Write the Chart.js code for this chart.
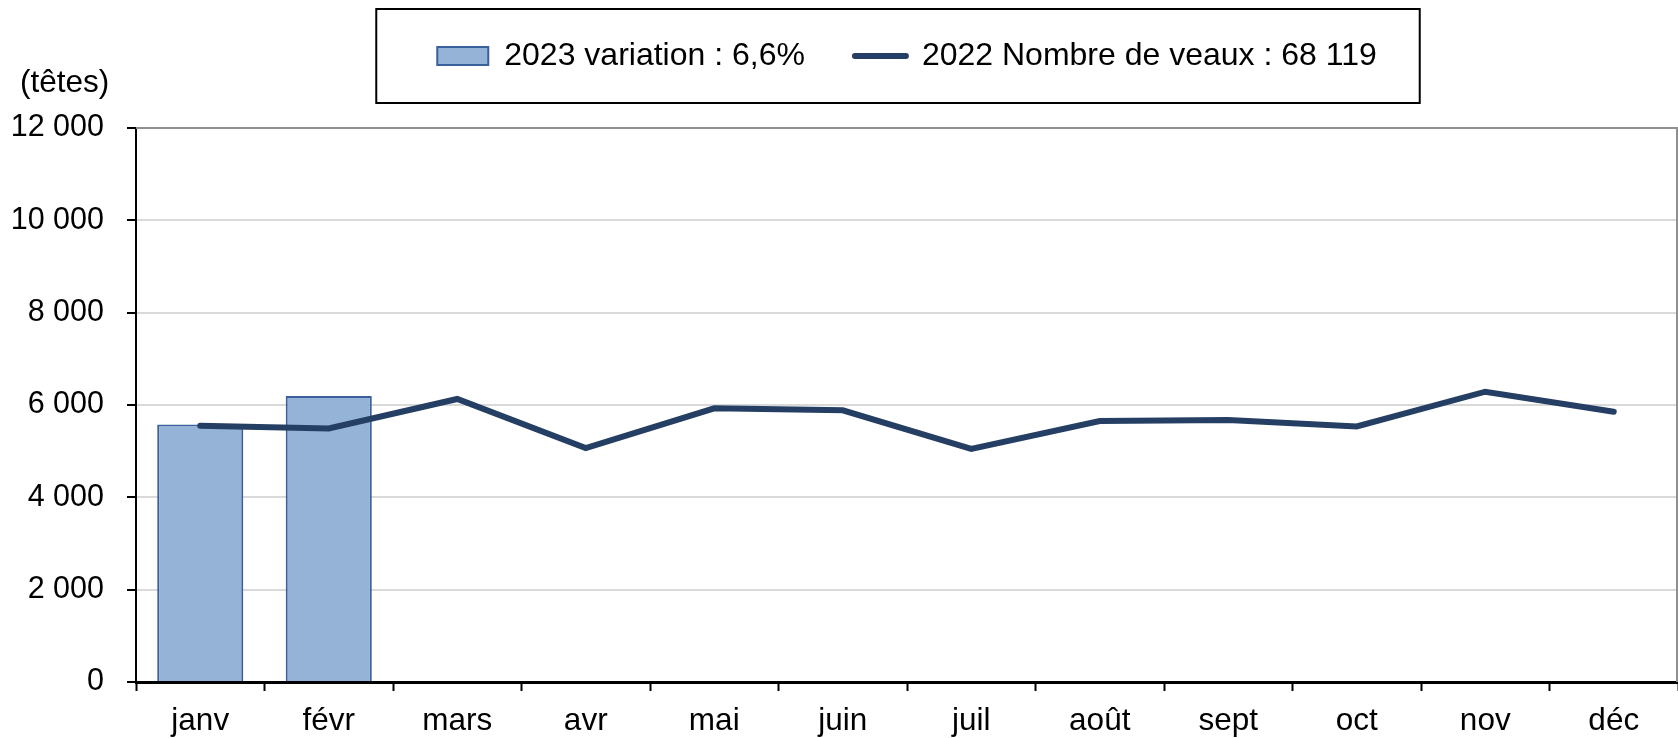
<!DOCTYPE html>
<html>
<head>
<meta charset="utf-8">
<script src="https://cdn.jsdelivr.net/npm/chart.js@4/dist/chart.umd.min.js"></script>
<style>
  html, body { margin: 0; padding: 0; background: #fff; }
  #wrap { width: 1678px; height: 738px; }
</style>
</head>
<body>
<div id="wrap"><canvas id="c" width="1678" height="738"></canvas></div>
<script>
const months = ['janv', 'févr', 'mars', 'avr', 'mai', 'juin', 'juil', 'août', 'sept', 'oct', 'nov', 'déc'];
const values2023 = [5580, 6195, null, null, null, null, null, null, null, null, null, null];
const values2022 = [5551, 5493, 6130, 5068, 5927, 5885, 5047, 5653, 5675, 5536, 6288, 5855];
const label2023 = '2023 variation : 6,6%';
const label2022 = '2022 Nombre de veaux : 68 119';
const unitLabel = '(têtes)';
const yMin = 0, yMax = 12000, yStep = 2000;

const FONT = 'Liberation Sans, Arial, sans-serif';
Chart.defaults.font.family = FONT;
Chart.defaults.font.size = 30;
Chart.defaults.color = '#000';

function fmt(v) { return String(v).replace(/\B(?=(\d{3})+(?!\d))/g, ' '); }

const deco = {
  id: 'deco',
  afterDraw(chart) {
    const { ctx, chartArea: a, legend } = chart;
    ctx.save();
    // plot area border (top + right)
    ctx.strokeStyle = '#8f8f8f';
    ctx.lineWidth = 2;
    ctx.beginPath();
    ctx.moveTo(a.left, a.top);
    ctx.lineTo(a.right - 1, a.top);
    ctx.lineTo(a.right - 1, a.bottom);
    ctx.stroke();
    // legend frame
    const hb = legend.legendHitBoxes;
    if (hb && hb.length) {
      const first = hb[0], last = hb[hb.length - 1];
      const cy = first.top + first.height / 2;
      const x0 = first.left - 61, x1 = last.left + last.width + 43;
      ctx.strokeStyle = '#000';
      ctx.lineWidth = 2;
      ctx.strokeRect(x0, cy - 47, x1 - x0, 94);
    }
    // unit label
    ctx.fillStyle = '#000';
    ctx.font = '31.5px ' + FONT;
    ctx.textAlign = 'left';
    ctx.textBaseline = 'alphabetic';
    ctx.fillText(unitLabel, a.left - 116, a.top - 36);
    ctx.restore();
  }
};

new Chart(document.getElementById('c'), {
  type: 'bar',
  data: {
    labels: months,
    datasets: [
      {
        type: 'bar',
        label: label2023,
        data: values2023,
        backgroundColor: '#95B3D7',
        borderColor: '#3A5F9A',
        borderWidth: 2,
        categoryPercentage: 1,
        barPercentage: 0.67,
        order: 1
      },
      {
        type: 'line',
        label: label2022,
        data: values2022,
        borderColor: '#243F63',
        backgroundColor: '#243F63',
        borderWidth: 6,
        pointRadius: 0,
        pointHoverRadius: 0,
        tension: 0,
        borderCapStyle: 'round',
        borderJoinStyle: 'miter',
        order: 0
      }
    ]
  },
  options: {
    responsive: false,
    animation: false,
    devicePixelRatio: 1,
    layout: { padding: { left: 12, right: 0, top: -10, bottom: 0 } },
    plugins: {
      tooltip: { enabled: false },
      legend: {
        position: 'top',
        fullSize: false,
        labels: {
          usePointStyle: true,
          pointStyleWidth: 51,
          boxHeight: 18,
          padding: 50,
          color: '#000',
          font: { size: 32, family: FONT },
          sort: (a, b) => a.datasetIndex - b.datasetIndex,
          generateLabels(chart) {
            const items = Chart.defaults.plugins.legend.labels.generateLabels(chart);
            items.forEach(it => {
              if (it.datasetIndex === 0) { it.pointStyle = 'rect'; it.lineWidth = 2; }
              else { it.pointStyle = 'line'; it.lineWidth = 6; it.lineCap = 'round'; }
            });
            return items;
          }
        }
      }
    },
    scales: {
      x: {
        type: 'category',
        offset: true,
        grid: {
          offset: true,
          drawOnChartArea: false,
          drawTicks: true,
          tickLength: 9,
          tickColor: '#000',
          tickWidth: 2
        },
        border: { display: true, color: '#000', width: 3 },
        ticks: { padding: 11, color: '#000', font: { size: 31.5 }, maxRotation: 0, autoSkip: false },
        afterFit(scale) { scale.height = 56; }
      },
      xTop: {
        type: 'category',
        position: 'top',
        display: true,
        grid: { display: false, drawTicks: false },
        border: { display: false },
        ticks: { display: false },
        afterFit(scale) { scale.height = 46; }
      },
      y: {
        min: yMin,
        max: yMax,
        grid: {
          color: '#d9d9d9',
          lineWidth: 2,
          tickLength: 9,
          tickColor: '#000',
          tickWidth: 2
        },
        border: { display: true, color: '#000', width: 2 },
        ticks: {
          stepSize: yStep,
          padding: 23,
          color: '#000',
          font: { size: 30.5 },
          callback: v => fmt(v)
        },
        afterFit(scale) { scale.width = 124; }
      }
    }
  },
  plugins: [deco]
});
</script>
</body>
</html>
